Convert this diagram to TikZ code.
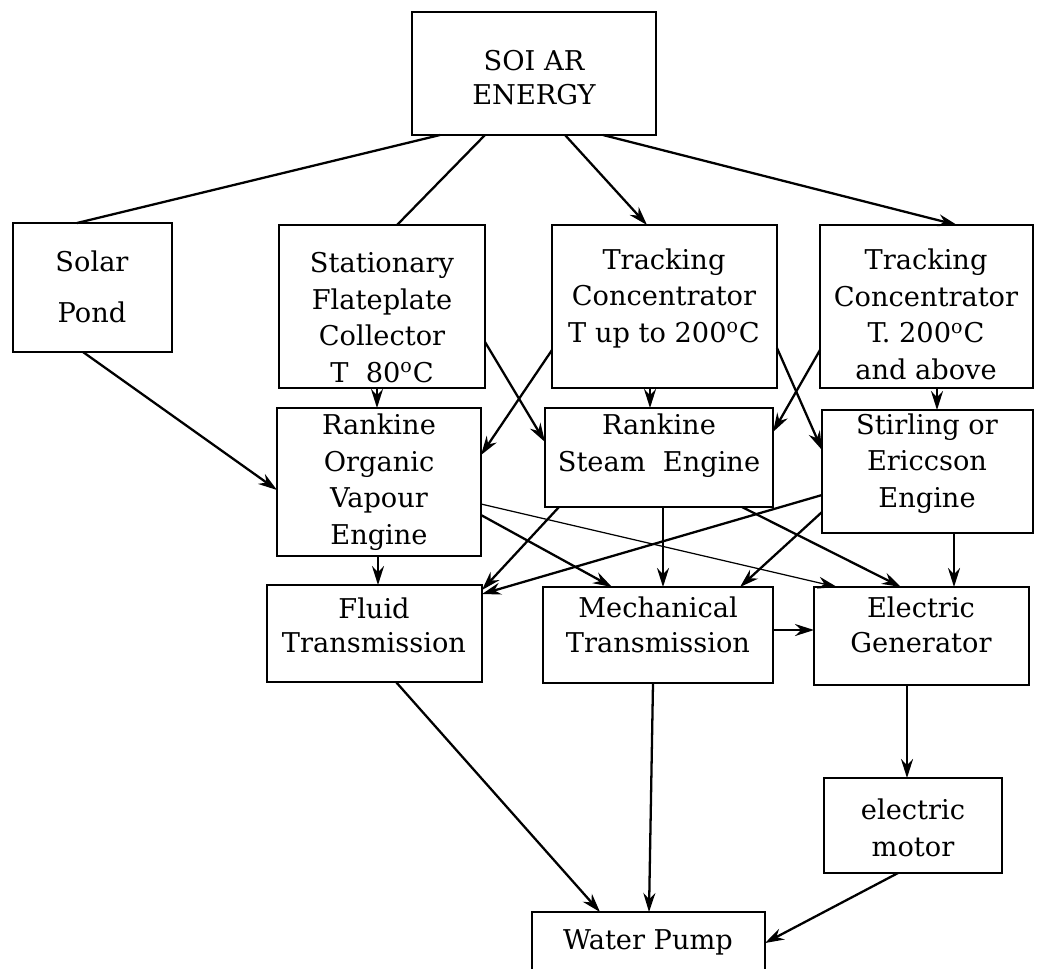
\documentclass[tikz,border=0pt]{standalone}
\usepackage{fontspec}
\setmainfont{DejaVu Serif}
\usetikzlibrary{arrows.meta,fit}
\begin{document}
\begin{tikzpicture}[x=0.02cm,y=-0.02cm,
  box/.style={draw,line width=1.6pt,inner sep=0pt,outer sep=0pt,rectangle},
  txt/.style={align=center,anchor=base,inner sep=0pt,font=\fontsize{15.5}{20.7}\selectfont},
  con/.style={line width=1.3pt},
  arr/.style={line width=1.3pt,-{Stealth[length=0.38cm,width=0.24cm]}},
  thinarr/.style={line width=0.7pt,-{Stealth[length=0.38cm,width=0.24cm]}}]
\clip (0,0) rectangle (1040,968);
% boxes
\node[box,fit={(412,12) (656,135)}] (solar) {};
\node[box,fit={(13,223) (172,352)}] (pond) {};
\node[box,fit={(279,225) (485,388)}] (stat) {};
\node[box,fit={(552,225) (777,388)}] (track1) {};
\node[box,fit={(820,225) (1033,388)}] (track2) {};
\node[box,fit={(277,408) (481,556)}] (rorg) {};
\node[box,fit={(545,408) (773,507)}] (rsteam) {};
\node[box,fit={(822,410) (1033,533)}] (stir) {};
\node[box,fit={(267,585) (482,682)}] (fluid) {};
\node[box,fit={(543,587) (773,683)}] (mech) {};
\node[box,fit={(814,587) (1029,685)}] (gen) {};
\node[box,fit={(824,778) (1002,873)}] (motor) {};
\node[box,fit={(532,912) (765,1000)}] (pump) {};
% texts (anchor base = baseline of last line)
\node[txt,font=\fontsize{15.5}{19.3}\selectfont] (tsolar) at (534,104) {SOI AR\\ENERGY};
\node[txt,font=\fontsize{15.5}{29}\selectfont] (tpond) at (92,322) {Solar\\Pond};
\node[txt] (tstat) at (382,382) {Stationary\\Flateplate\\Collector\\T\ \ 80\textsuperscript{o}C};
\node[txt] (ttrack1) at (664,342) {Tracking\\Concentrator\\T up to 200\textsuperscript{o}C};
\node[txt] (ttrack2) at (926,379) {Tracking\\Concentrator\\T. 200\textsuperscript{o}C\\and above};
\node[txt] (trorg) at (379,544) {Rankine\\Organic\\Vapour\\Engine};
\node[txt] (trsteam) at (659,471) {Rankine\\Steam\ \ Engine};
\node[txt] (tstir) at (927,507) {Stirling or\\Ericcson\\Engine};
\node[txt,font=\fontsize{15.5}{18.8}\selectfont] (tfluid) at (374,652) {Fluid\\Transmission};
\node[txt,font=\fontsize{15.5}{19.9}\selectfont] (tmech) at (658,652) {Mechanical\\Transmission};
\node[txt,font=\fontsize{15.5}{19.9}\selectfont] (tgen) at (921,652) {Electric\\Generator};
\node[txt] (tmotor) at (913,856) {electric\\motor};
\node[txt] (tpump) at (648,949) {Water Pump};
% connectors
\draw[con] (440,0 |- solar.south) -- (77,0 |- pond.north);
\draw[con] (485,0 |- solar.south) -- (397,0 |- stat.north);
\draw[arr] (565,0 |- solar.south) -- (647,0 |- track1.north);
\draw[arr] (603,0 |- solar.south) -- (957,0 |- track2.north);
\draw[arr] (83,0 |- pond.south) -- (rorg.west |- 0,490);
\draw[arr] (377,0 |- stat.south) -- (377,0 |- rorg.north);
\draw[arr] (stat.east |- 0,342) -- (rsteam.west |- 0,442);
\draw[arr] (track1.west |- 0,350) -- (rorg.east |- 0,455);
\draw[arr] (650,0 |- track1.south) -- (650,0 |- rsteam.north);
\draw[arr] (track1.east |- 0,348) -- (stir.west |- 0,450);
\draw[arr] (track2.west |- 0,350) -- (rsteam.east |- 0,432);
\draw[arr] (937,0 |- track2.south) -- (937,0 |- stir.north);
\draw[arr] (378,0 |- rorg.south) -- (378,0 |- fluid.north);
\draw[arr] (rorg.east |- 0,515) -- (612,0 |- mech.north);
\draw[thinarr] (rorg.east |- 0,504) -- (837,0 |- gen.north);
\draw[arr] (559,0 |- rsteam.south) -- (fluid.east |- 0,590);
\draw[arr] (663,0 |- rsteam.south) -- (663,0 |- mech.north);
\draw[arr] (742,0 |- rsteam.south) -- (901,0 |- gen.north);
\draw[arr] (stir.west |- 0,495) -- (fluid.east |- 0,594);
\draw[arr] (stir.west |- 0,512) -- (740,0 |- mech.north);
\draw[arr] (954,0 |- stir.south) -- (954,0 |- gen.north);
\draw[arr] (mech.east |- 0,630) -- (gen.west |- 0,630);
\draw[arr] (396,0 |- fluid.south) -- (600,0 |- pump.north);
\draw[arr] (653,0 |- mech.south) -- (649,0 |- pump.north);
\draw[arr] (907,0 |- gen.south) -- (907,0 |- motor.north);
\draw[arr] (898,0 |- motor.south) -- (pump.east |- 0,943);
\end{tikzpicture}
\end{document}
